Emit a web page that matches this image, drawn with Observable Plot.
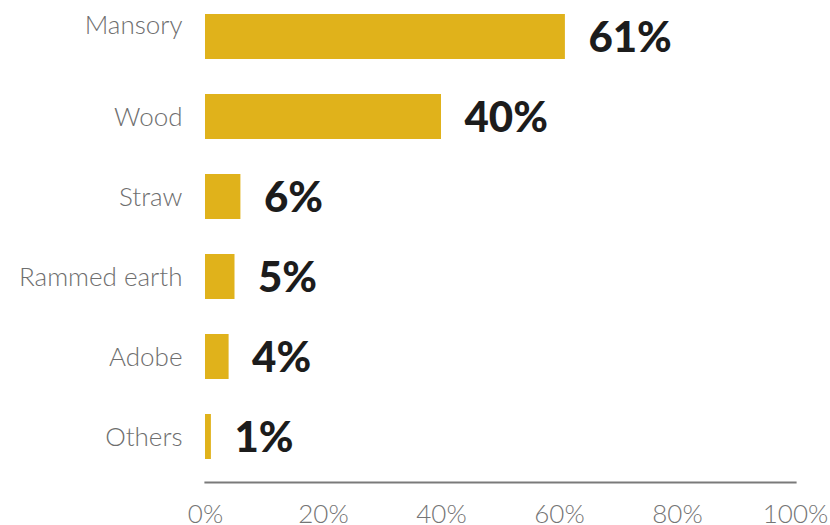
<!DOCTYPE html>
<html>
<head>
<meta charset="utf-8">
<script src="https://cdn.jsdelivr.net/npm/d3@7"></script>
<script src="https://cdn.jsdelivr.net/npm/@observablehq/plot@0.6"></script>
<style>
  body { margin: 0; background: #fff; }
  #chart svg { display: block; overflow: visible; }
</style>
</head>
<body>
<div id="chart"></div>
<script>
const categories = ["Mansory", "Wood", "Straw", "Rammed earth", "Adobe", "Others"];
const values = [61, 40, 6, 5, 4, 1];
const xTicks = [0, 20, 40, 60, 80, 100];

const data = categories.map((c, i) => ({category: c, value: values[i]}));

const chart = Plot.plot({
  width: 830,
  height: 525,
  marginLeft: 205,
  marginRight: 35,
  marginTop: 0,
  marginBottom: 43,
  style: {fontFamily: "Lato, sans-serif", background: "#fff"},
  x: {domain: [0, 100]},
  y: {domain: categories, range: [13, 460], paddingInner: 0.44, paddingOuter: 0, axis: null},
  marks: [
    Plot.barX(data, {x: "value", y: "category", fill: "#E0B21B"}),
    Plot.frame({anchor: "bottom", stroke: "#7a7a7a", strokeWidth: 2.2}),
    Plot.axisX({ticks: xTicks, tickFormat: d => d + "%", tickSize: 0, tickPadding: 22,
      fontSize: 26, fill: "#757575", fontWeight: 300, label: null}),
    Plot.text(data.filter((d, i) => i === 0), {y: "category", text: "category", frameAnchor: "left",
      dx: -23, dy: -11, textAnchor: "end", fontSize: 26, fontWeight: 300, fill: "#6e6e6e"}),
    Plot.text(data.filter((d, i) => i > 0), {y: "category", text: "category", frameAnchor: "left",
      dx: -23, dy: 1, textAnchor: "end", fontSize: 26, fontWeight: 300, fill: "#6e6e6e"}),
    Plot.text(data, {x: "value", y: "category", text: d => d.value + "%", dx: 23, dy: 2,
      textAnchor: "start", fontSize: 42, fontWeight: 900, fill: "#1c1c1c"})
  ]
});
document.getElementById("chart").append(chart);
</script>
</body>
</html>
